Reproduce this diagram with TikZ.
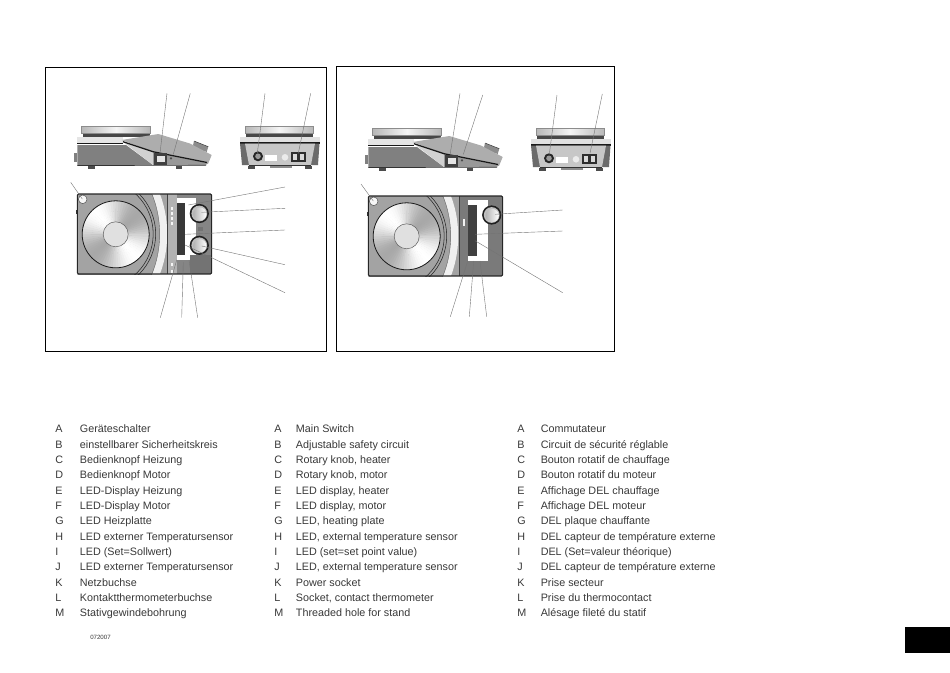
\documentclass[tikz,border=0pt]{standalone}
\usepackage{fontspec}
\setmainfont{Liberation Sans}
\usetikzlibrary{positioning}
\tikzset{
    legendtext/.style={anchor=west, inner sep=0pt, text=black!78, text height=6pt, text depth=1.8pt, font=\fontsize{8.08}{9}\selectfont},
    leader/.style={draw=black!55, line width=0.3pt},
    outline/.style={draw=black!70, line width=0.35pt},
    frame/.style={draw=black, line width=0.75pt},
    platestyle/.style={draw=black!45, line width=0.35pt, left color=black!28, right color=black!28, middle color=black!4},
    sideview/.pic={
        % plate
        \path[platestyle] (81.7,126.7) rectangle (150,133.5);
        \fill[black!72] (82.5,133.5) rectangle (149.5,137);
        \fill[black!10] (77.3,137) rectangle (123,143);
        \fill[black!90] (77.3,142.8) rectangle (123,144);
        % housing
        \path[fill=black!50] (77.3,145) -- (126,145) -- (153,165) -- (77.3,165.5) -- cycle;
        \path[fill=black!18] (123,141.7) -- (153,151.7) -- (153,165) -- cycle;
        \path[fill=black!45] (194,141) -- (208.3,146.7) -- (206.7,152) -- (192.7,147) -- cycle;
        \path[fill=black!32] (121.7,140) -- (158.3,134) -- (190,143.5) -- (211.7,155) -- (208.3,163.3) -- (153,151.7) -- cycle;
        \path[fill=black!40] (153,151.7) -- (208.3,163.3) -- (205,165.3) -- (153,165.3) -- cycle;
        \draw[black!90, line width=0.9pt] (123,141.7) -- (153,151.7) -- (207,162.5);
        \draw[black!80, line width=0.5pt] (77.3,165.5) -- (206,165.3);
        % switch and hole
        \path[fill=black!75] (153.5,153) rectangle (167,164.5);
        \path[fill=black!10] (156.5,155.7) rectangle (164.5,161.7);
        \fill[black!70] (171,158.3) circle (1.2);
        % knob edge and feet
        \draw[black!75, line width=0.4pt] (194,141) -- (208.3,146.7);
        \fill[black!50] (74.3,153.3) rectangle (77.3,161.7);
        \fill[black!70] (87.7,165.5) rectangle (95,169);
        \fill[black!70] (175.7,165.5) rectangle (182.3,169);
    },
    backview/.pic={
        \path[platestyle] (245,126.7) rectangle (313.3,133.5);
        \fill[black!72] (245.5,133.5) rectangle (313,136.5);
        \fill[black!12] (240,136.5) rectangle (319.5,142.3);
        \fill[black!90] (240,142.3) rectangle (319.5,143.5);
        \path[fill=black!58] (240,143.5) -- (319.5,143.5) -- (318,165) -- (242,165) -- cycle;
        \path[fill=black!22] (245,143.5) -- (315,143.5) -- (311,165) -- (249,165) -- cycle;
        \draw[black!80, line width=0.5pt] (249,165.3) -- (311,165.3);
        \path[fill=black!85] (258,156.3) circle (5);
        \path[fill=black!40] (258,156.3) circle (2.8);
        \path[fill=white] (265,155) rectangle (277,161);
        \path[fill=black!8] (285,157.3) circle (3.3);
        \path[fill=black!82] (291,151.7) rectangle (305.7,161.7);
        \path[fill=black!15] (293,154) rectangle (297,159.5);
        \path[fill=black!15] (299.5,154) rectangle (303.5,159.5);
        \fill[black!70] (248.3,165.5) rectangle (255,169);
        \fill[black!70] (305,165.5) rectangle (311.7,169);
        \fill[black!45] (270,165.5) rectangle (291.7,168);
    },
    topview/.pic={
        \begin{scope}
            \clip (77.3,194) rectangle (211.7,274);
            \fill[black!36] (77.3,194) rectangle (211.7,274);
            \path[fill=black!6] (53.7,234) circle (113.5);
            \path[fill=black!36] (53.7,234) circle (106);
            \draw[black!85, line width=0.4pt] (98.7,234) circle (54.5);
            \draw[black!85, line width=0.4pt] (98.7,234) circle (57);
            \draw[black!60, line width=0.3pt] (53.7,234) circle (106);
        \end{scope}
        % plate with its sheen
        \foreach \a in {0,5,...,355}{
            \pgfmathsetmacro\lev{17+17*cos(2*(\a-40))}
            \fill[black!\lev!white] (115.7,234.3) -- ++(-\a:33.5) arc (-\a:-\a-6:33.5) -- cycle;
        }
        \draw[black!90, line width=0.6pt] (115.7,234.3) circle (33.5);
        \draw[black!65, line width=0.35pt, fill=black!12] (115.7,234.3) circle (12.5);
        \path[outline, fill=black!3] (82.7,199.3) circle (4.3);
        \fill[black!80] (75.5,210) rectangle (77.3,214);
    },
    topedge/.pic={
        \draw[black!85, line width=0.8pt, rounded corners=1pt] (77.3,194) rectangle (211.7,274);
    },
    bigknob/.pic={
        \path[fill=black!88] (0,0) circle (9.6);
        \path[fill=black!25] (0,0) circle (7.9);
        \path[left color=black!30, right color=white] (0.5,0.5) circle (6.6);
    }
}

\begin{document}
\begin{tikzpicture}[x=0.75pt, y=-0.75pt]
    \useasboundingbox (0,0) rectangle (950,672);

    % first unit
    \draw[frame] (45.5,67.5) rectangle (326,351);
    \pic at (0,0) {sideview};
    \pic at (0,0) {backview};
    \pic at (0,0) {topview};
    \path[fill=black!48] (167.5,194) rectangle (211.7,274);
    \path[fill=black!55] (190,255) rectangle (211.7,274);
    \path[fill=black!30] (167.5,194) rectangle (177.3,274);
    \draw[black!75, line width=0.5pt] (167.5,194) -- (167.5,274);
    \foreach \ledy in {207,212,217,222,263,270}
        \path[fill=black!4] (170.5,\ledy) rectangle (173,\ledy+2.5);
    \path[fill=white] (177.3,198.3) rectangle (196,255);
    \path[fill=white] (177.3,255) rectangle (190,260);
    \path[fill=black!78] (177.3,203.3) rectangle (185,255);
    \path[fill=black!55] (198,227) rectangle (203,231);
    \pic at (199.3,213.5) {bigknob};
    \pic at (199.3,245.3) {bigknob};
    \pic at (0,0) {topedge};

    % second unit
    \draw[frame] (336.5,66.5) rectangle (614.5,351);
    \pic at (291,2) {sideview};
    \pic at (291,2) {backview};
    \pic at (291,2) {topview};
    \path[fill=black!52] (459,196) rectangle (502.7,276);
    \draw[black!75, line width=0.5pt] (459,196) -- (459,276);
    \path[fill=white] (468.3,200) rectangle (487.5,261);
    \path[fill=black!75] (468.3,205) rectangle (477,256);
    \path[fill=black!5] (463,219) rectangle (465,226);
    \pic at (491.7,215) {bigknob};
    \pic at (291,2) {topedge};

    % leader lines
    \foreach \ax/\ay/\bx/\by [count=\i] in {167/93.3/160/153.3, 190.3/93.3/173.3/154.3, 265/93.3/257.3/153.3, 310.7/93.3/298.3/153.3,
        70.7/182.3/82.3/199, 285/187/188.3/205, 285/208.3/201.7/212.3, 285/230/185/234.3, 285/264.7/201.7/246, 285/292.7/185/245,
        160.3/317.7/176.7/260, 181.7/317.7/183.3/262.3, 197.7/317.7/189/260,
        460/93.3/450/155, 482.7/95/463.3/154.3, 557/95/549.3/154.3, 602.3/94/590/153.3,
        361/184/373.3/201, 562.7/210/495/214.3, 562.7/231/475/234.3, 562.7/292.7/475/240.7,
        450.3/316.7/467.7/261, 469.3/316.7/473.7/261, 486.7/316.7/480/261}{
        \coordinate (free\i) at (\ax,\ay);
        \coordinate (part\i) at (\bx,\by);
        \draw[leader] (free\i) -- (part\i);
    }

    % legend, three languages
    \foreach \lab [count=\i] in {A,B,C,D,E,F,G,H,I,J,K,L,M}{
        \node[legendtext] (keyde\i) at (55,414.6+15.33*\i) {\lab};
        \node[legendtext] (keyen\i) at (274,414.6+15.33*\i) {\lab};
        \node[legendtext] (keyfr\i) at (517,414.6+15.33*\i) {\lab};
    }
    \foreach \txt [count=\i] in {Geräteschalter, einstellbarer Sicherheitskreis, Bedienknopf Heizung, Bedienknopf Motor,
        LED-Display Heizung, LED-Display Motor, LED Heizplatte, LED externer Temperatursensor, LED (Set=Sollwert),
        LED externer Temperatursensor, Netzbuchse, Kontaktthermometerbuchse, Stativgewindebohrung}
        \node[legendtext, anchor=west] (textde\i) at (79.7,414.6+15.33*\i) {\txt};
    \foreach \txt [count=\i] in {Main Switch, Adjustable safety circuit, {Rotary knob, heater}, {Rotary knob, motor},
        {LED display, heater}, {LED display, motor}, {LED, heating plate}, {LED, external temperature sensor},
        LED (set=set point value), {LED, external temperature sensor}, Power socket, {Socket, contact thermometer}, Threaded hole for stand}
        \node[legendtext, anchor=west] (texten\i) at (295.7,414.6+15.33*\i) {\txt};
    \foreach \txt [count=\i] in {Commutateur, Circuit de sécurité réglable, Bouton rotatif de chauffage, Bouton rotatif du moteur,
        Affichage DEL chauffage, Affichage DEL moteur, DEL plaque chauffante, DEL capteur de température externe,
        DEL (Set=valeur théorique), DEL capteur de température externe, Prise secteur, Prise du thermocontact, Alésage fileté du statif}
        \node[legendtext, anchor=west] (textfr\i) at (540.5,414.6+15.33*\i) {\txt};

    \node[legendtext, font=\fontsize{4.6}{6}\selectfont, text height=3.5pt, text depth=0pt] (datecode) at (90,637.5) {072007};
    \fill[black] (904.7,626.5) rectangle (950,652.5);
\end{tikzpicture}
\end{document}
